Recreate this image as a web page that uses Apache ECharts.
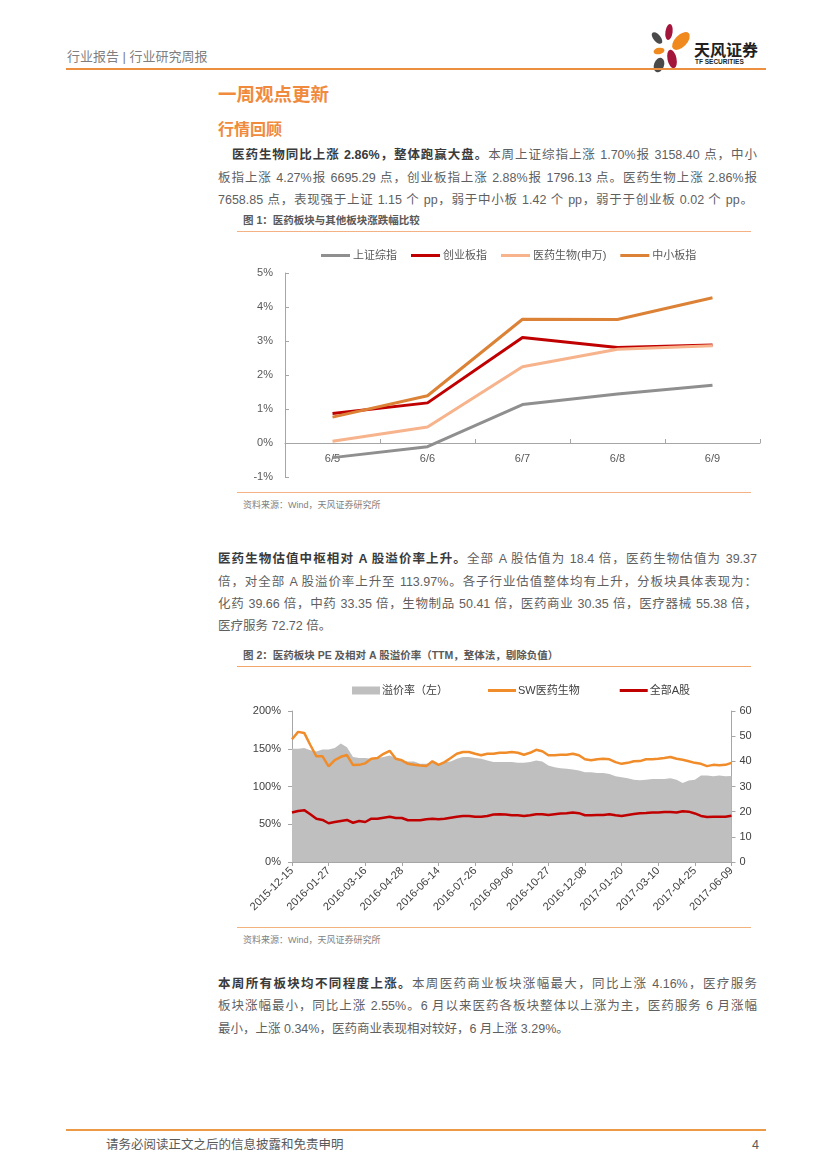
<!DOCTYPE html>
<html>
<head>
<meta charset="utf-8">
<script src="https://cdn.jsdelivr.net/npm/echarts@6/dist/echarts.min.js"></script>
<style>
html,body{margin:0;padding:0;background:#fff;}
#page{position:relative;width:827px;height:1169px;overflow:hidden;background:#fff;font-family:"Liberation Sans","Noto Sans CJK SC",sans-serif;}
.abs{position:absolute;white-space:nowrap;}
.ln{position:absolute;height:20px;line-height:20px;font-size:12.5px;color:#5f5f5f;text-align:justify;text-align-last:justify;}
.ln.last{text-align-last:left;}
.ln b{color:#3a3a3a;}
.rule{position:absolute;height:0;}
.figt{position:absolute;white-space:nowrap;font-size:10.5px;font-weight:bold;color:#595959;line-height:14px;}
.src{position:absolute;white-space:nowrap;font-size:9px;color:#7f7f7f;line-height:12px;}
</style>
</head>
<body>
<div id="page">
  <!-- header -->
  <div class="abs" style="left:67px;top:49px;font-size:13px;line-height:16px;color:#7f7f7f;">行业报告 | 行业研究周报</div>
  <svg class="abs" style="left:640px;top:18px;" width="60" height="62" viewBox="640 18 60 62">
    <ellipse cx="669" cy="32" rx="3.6" ry="8" fill="#a3153a" transform="rotate(8 669 32)"/>
    <ellipse cx="681" cy="41" rx="6" ry="11" fill="#f0891e" transform="rotate(45 681 41)"/>
    <ellipse cx="657" cy="38" rx="3.6" ry="7" fill="#4a4a4a" transform="rotate(-40 657 38)"/>
    <ellipse cx="659" cy="51" rx="5.5" ry="3.2" fill="#f0891e" transform="rotate(-10 659 51)"/>
    <ellipse cx="672" cy="59" rx="4.5" ry="9.5" fill="#a3153a" transform="rotate(-12 672 59)"/>
    <ellipse cx="659" cy="65" rx="5" ry="7.5" fill="#4a4a4a" transform="rotate(20 659 65)"/>
  </svg>
  <div class="abs" style="left:694px;top:39px;font-size:16px;line-height:20px;font-weight:bold;color:#231f20;font-family:'Noto Sans CJK SC',sans-serif;">天风证券</div>
  <div class="abs" style="left:695px;top:58px;font-size:6.5px;line-height:8px;font-weight:bold;color:#231f20;">TF SECURITIES</div>
  <div class="rule" style="left:66px;top:68px;width:700px;border-top:2px solid #ec8f3e;"></div>

  <!-- headings -->
  <div class="abs" style="left:218px;top:82px;font-size:18.5px;line-height:22px;font-weight:bold;color:#f08a3c;font-family:'Noto Sans CJK SC',sans-serif;">一周观点更新</div>
  <div class="abs" style="left:218px;top:118px;font-size:16px;line-height:20px;font-weight:bold;color:#f08a3c;font-family:'Noto Sans CJK SC',sans-serif;">行情回顾</div>

  <!-- paragraph 1 -->
  <div class="ln" style="left:232px;top:145px;width:525px;"><b>医药生物同比上涨 2.86%，整体跑赢大盘。</b>本周上证综指上涨 1.70%报 3158.40 点，中小</div>
  <div class="ln" style="left:218px;top:168px;width:539px;">板指上涨 4.27%报 6695.29 点，创业板指上涨 2.88%报 1796.13 点。医药生物上涨 2.86%报</div>
  <div class="ln" style="left:218px;top:190px;width:535px;">7658.85 点，表现强于上证 1.15 个 pp，弱于中小板 1.42 个 pp，弱于于创业板 0.02 个 pp。</div>

  <!-- figure 1 -->
  <div class="figt" style="left:243px;top:213px;">图 1：医药板块与其他板块涨跌幅比较</div>
  <div class="rule" style="left:237px;top:231px;width:514px;border-top:1.5px solid #f4b183;"></div>
  <div id="chart1" style="position:absolute;left:230px;top:235px;width:540px;height:255px;"></div>
  <div class="rule" style="left:237px;top:492px;width:514px;border-top:1.5px solid #f4b183;"></div>
  <div class="src" style="left:243px;top:499px;">资料来源：Wind，天风证券研究所</div>

  <!-- paragraph 2 -->
  <div class="ln" style="left:218px;top:549px;width:539px;"><b>医药生物估值中枢相对 A 股溢价率上升。</b>全部 A 股估值为 18.4 倍，医药生物估值为 39.37</div>
  <div class="ln" style="left:218px;top:572px;width:539px;">倍，对全部 A 股溢价率上升至 113.97%。各子行业估值整体均有上升，分板块具体表现为：</div>
  <div class="ln" style="left:218px;top:594px;width:539px;">化药 39.66 倍，中药 33.35 倍，生物制品 50.41 倍，医药商业 30.35 倍，医疗器械 55.38 倍，</div>
  <div class="ln last" style="left:218px;top:616px;width:539px;">医疗服务 72.72 倍。</div>

  <!-- figure 2 -->
  <div class="figt" style="left:243px;top:648px;">图 2：医药板块 PE 及相对 A 股溢价率（TTM，整体法，剔除负值）</div>
  <div class="rule" style="left:237px;top:666px;width:514px;border-top:1.5px solid #f2a66a;"></div>
  <div id="chart2" style="position:absolute;left:230px;top:668px;width:540px;height:258px;"></div>
  <div class="rule" style="left:237px;top:927px;width:514px;border-top:1.5px solid #f2b27e;"></div>
  <div class="src" style="left:243px;top:934px;">资料来源：Wind，天风证券研究所</div>

  <!-- paragraph 3 -->
  <div class="ln" style="left:218px;top:974px;width:539px;"><b>本周所有板块均不同程度上涨。</b>本周医药商业板块涨幅最大，同比上涨 4.16%，医疗服务</div>
  <div class="ln" style="left:218px;top:996px;width:539px;">板块涨幅最小，同比上涨 2.55%。6 月以来医药各板块整体以上涨为主，医药服务 6 月涨幅</div>
  <div class="ln last" style="left:218px;top:1019px;width:539px;">最小，上涨 0.34%，医药商业表现相对较好，6 月上涨 3.29%。</div>

  <!-- footer -->
  <div class="rule" style="left:66px;top:1129px;width:700px;border-top:2px solid #ec9a45;"></div>
  <div class="abs" style="left:106px;top:1137px;font-size:12.5px;line-height:16px;color:#595959;">请务必阅读正文之后的信息披露和免责申明</div>
  <div class="abs" style="left:752px;top:1137px;font-size:12.5px;line-height:16px;color:#595959;">4</div>
</div>

<script>
// ---------- Figure 1 data ----------
const c1Days = ['6/5', '6/6', '6/7', '6/8', '6/9'];
const c1Shanghai = [-0.43, -0.11, 1.13, 1.44, 1.70];   // 上证综指
const c1ChiNext  = [0.87, 1.18, 3.10, 2.81, 2.88];     // 创业板指
const c1Pharma   = [0.05, 0.47, 2.24, 2.76, 2.86];     // 医药生物(申万)
const c1SME      = [0.76, 1.39, 3.64, 3.63, 4.27];     // 中小板指
const c1YMin = -1, c1YMax = 5;

// ---------- Figure 2 data ----------
const peTickLabels = ['2015-12-15','2016-01-27','2016-03-16','2016-04-28','2016-06-14','2016-07-26','2016-09-06','2016-10-27','2016-12-08','2017-01-20','2017-03-10','2017-04-25','2017-06-09'];
const pePointsPerTick = 6;
// 溢价率（左）, %
const pePremium = [
  150, 150, 151, 148, 146.5, 149, 149, 151, 157, 152, 139, 137.6,
  137.6, 136.7, 137.6, 139, 141, 137.6, 134.5, 133.2, 133.2, 130, 130, 131.4,
  130, 132.3, 133.2, 136.7, 139, 139, 137.6, 136.7, 134.5, 132.3, 132.3, 132.3,
  132.3, 131.4, 131.4, 132.3, 134.5, 133.2, 127.8, 125.6, 124.3, 123.4, 122.5, 121.2,
  118.9, 118.9, 118, 118, 116.7, 113.6, 112.2, 110.9, 109.1, 108.2, 109.1, 110,
  110, 110, 110.9, 109.1, 104.7, 107.8, 109.1, 114.5, 114.5, 113.6, 114.5, 113.6, 114
];
// SW医药生物 PE (right axis)
const peSW = [
  48.8, 51.7, 51.3, 46.5, 42.0, 42.0, 38.0, 40.5, 41.8, 42.5, 38.5, 38.6,
  39.2, 41.0, 41.3, 43.0, 44.2, 41.0, 40.4, 39.0, 38.6, 38.3, 38.1, 40.0,
  38.6, 39.7, 41.3, 43.0, 43.7, 43.7, 43.0, 42.4, 43.0, 43.0, 43.4, 43.4,
  43.7, 43.4, 42.6, 43.4, 44.6, 44.0, 42.4, 42.4, 42.6, 42.6, 43.0, 42.4,
  40.8, 40.4, 40.8, 41.0, 40.8, 39.7, 39.0, 39.4, 40.0, 40.1, 40.8, 40.8,
  41.0, 41.3, 41.7, 41.0, 40.6, 40.0, 39.4, 39.0, 38.1, 38.6, 38.4, 38.6, 39.4
];
// 全部A股 PE (right axis)
const peAll = [
  19.7, 20.3, 20.6, 19.0, 17.2, 16.7, 15.4, 15.9, 16.3, 16.7, 15.6, 16.3,
  15.9, 17.2, 17.2, 17.6, 18.0, 17.5, 17.5, 16.6, 16.6, 16.6, 17.0, 17.2,
  17.0, 17.2, 17.6, 18.0, 18.3, 18.3, 18.0, 18.0, 18.3, 18.9, 19.0, 18.9,
  18.6, 18.6, 18.3, 18.6, 19.0, 19.0, 18.7, 19.0, 19.3, 19.4, 19.7, 19.4,
  18.6, 18.6, 18.7, 18.7, 19.0, 18.6, 18.3, 18.7, 19.1, 19.4, 19.5, 19.7,
  19.7, 19.9, 19.9, 19.7, 20.2, 20.0, 19.3, 18.3, 17.9, 18.0, 18.0, 18.0, 18.4
];

const peCategories = [];
peTickLabels.forEach(function (lab, k) {
  if (k < peTickLabels.length - 1) {
    for (let j = 0; j < pePointsPerTick; j++) peCategories.push(j === 0 ? lab : lab + '+' + j);
  } else {
    peCategories.push(lab);
  }
});

const FONT = '"Liberation Sans","Noto Sans CJK SC",sans-serif';
const AXIS_C = '#a6a6a6';

// ---------- Chart 1 ----------
const C1_TOP = 38, C1_BOTTOM = 13, C1_H = 255;
const c1PlotH = C1_H - C1_TOP - C1_BOTTOM;
const c1ZeroOffset = -c1PlotH * (0 - c1YMin) / (c1YMax - c1YMin); // move category axis up to the 0 line
const chart1 = echarts.init(document.getElementById('chart1'), null, {renderer: 'canvas'});
chart1.setOption({
  animation: false,
  textStyle: {fontFamily: FONT},
  legend: {
    left: 86, top: 10, icon: 'rect', itemWidth: 29, itemHeight: 3, itemGap: 14,
    textStyle: {fontSize: 11, color: '#595959', fontFamily: FONT, padding: [0, 0, 0, -2]},
    data: ['上证综指', '创业板指', '医药生物(申万)', '中小板指']
  },
  grid: {left: 55, right: 10, top: C1_TOP, bottom: C1_BOTTOM, containLabel: false, outerBoundsMode: 'none'},
  xAxis: {
    type: 'category', data: c1Days, boundaryGap: true, position: 'bottom', offset: c1ZeroOffset,
    axisLine: {onZero: false, lineStyle: {color: AXIS_C, width: 1}},
    axisTick: {show: true, inside: true, length: 4, lineStyle: {color: AXIS_C}},
    axisLabel: {color: '#595959', fontSize: 11, margin: 10, fontFamily: FONT},
    splitLine: {show: false}
  },
  yAxis: {
    type: 'value', min: c1YMin, max: c1YMax, interval: 1,
    axisLine: {show: true, lineStyle: {color: AXIS_C, width: 1}},
    axisTick: {show: true, inside: true, length: 4, lineStyle: {color: AXIS_C}},
    axisLabel: {formatter: '{value}%', color: '#595959', fontSize: 11, margin: 12, fontFamily: FONT},
    splitLine: {show: false}
  },
  series: [
    {name: '上证综指', type: 'line', data: c1Shanghai, symbol: 'none', color: '#8f8f8f', lineStyle: {width: 3, color: '#8f8f8f'}},
    {name: '创业板指', type: 'line', data: c1ChiNext, symbol: 'none', color: '#c00000', lineStyle: {width: 3, color: '#c00000'}},
    {name: '医药生物(申万)', type: 'line', data: c1Pharma, symbol: 'none', color: '#f6b38c', lineStyle: {width: 3, color: '#f6b38c'}},
    {name: '中小板指', type: 'line', data: c1SME, symbol: 'none', color: '#dc8236', lineStyle: {width: 3, color: '#dc8236'}}
  ]
});

// ---------- Chart 2 ----------
const chart2 = echarts.init(document.getElementById('chart2'), null, {renderer: 'canvas'});
chart2.setOption({
  animation: false,
  textStyle: {fontFamily: FONT},
  legend: [
    {
      left: 117, top: 12, icon: 'rect', itemWidth: 28, itemHeight: 8,
      textStyle: {fontSize: 11, color: '#404040', fontFamily: FONT, padding: [0, 0, 0, -3]},
      data: ['溢价率（左）']
    },
    {
      left: 253, top: 12, icon: 'rect', itemWidth: 28, itemHeight: 3, itemGap: 40,
      textStyle: {fontSize: 11, color: '#404040', fontFamily: FONT, padding: [0, 0, 0, -3]},
      data: ['SW医药生物', '全部A股']
    }
  ],
  grid: {left: 62, right: 38.5, top: 43, bottom: 64, containLabel: false, outerBoundsMode: 'none'},
  xAxis: {
    type: 'category', data: peCategories, boundaryGap: false,
    axisLine: {lineStyle: {color: AXIS_C, width: 1}},
    axisTick: {show: true, interval: pePointsPerTick - 1, length: 4, lineStyle: {color: AXIS_C}},
    axisLabel: {interval: pePointsPerTick - 1, rotate: 45, color: '#404040', fontSize: 11, margin: 7, fontFamily: FONT},
    splitLine: {show: false}
  },
  yAxis: [
    {
      type: 'value', min: 0, max: 200, interval: 50, position: 'left',
      axisLine: {show: true, lineStyle: {color: AXIS_C, width: 1}},
      axisTick: {show: true, length: 4, lineStyle: {color: AXIS_C}},
      axisLabel: {formatter: '{value}%', color: '#404040', fontSize: 11, margin: 11, fontFamily: FONT},
      splitLine: {show: false}
    },
    {
      type: 'value', min: 0, max: 60, interval: 10, position: 'right',
      axisLine: {show: true, lineStyle: {color: AXIS_C, width: 1}},
      axisTick: {show: true, length: 4, lineStyle: {color: AXIS_C}},
      axisLabel: {color: '#404040', fontSize: 11, margin: 8, fontFamily: FONT},
      splitLine: {show: false}
    }
  ],
  series: [
    {name: '溢价率（左）', type: 'line', yAxisIndex: 0, data: pePremium, symbol: 'none', color: '#bfbfbf',
     lineStyle: {width: 0, color: '#bfbfbf'}, areaStyle: {color: '#bfbfbf', opacity: 1}},
    {name: 'SW医药生物', type: 'line', yAxisIndex: 1, data: peSW, symbol: 'none', color: '#f08c2a',
     lineStyle: {width: 2.5, color: '#f08c2a'}},
    {name: '全部A股', type: 'line', yAxisIndex: 1, data: peAll, symbol: 'none', color: '#c00000',
     lineStyle: {width: 2.5, color: '#c00000'}}
  ]
});
</script>
</body>
</html>
